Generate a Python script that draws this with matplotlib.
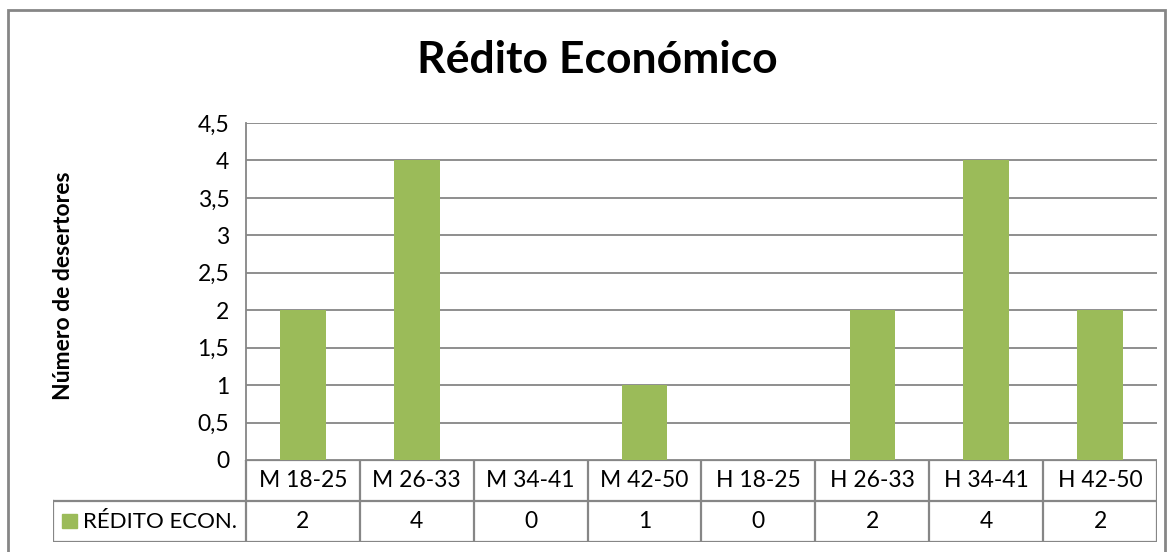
import matplotlib.pyplot as plt
import numpy as np
from matplotlib.patches import Rectangle

plt.rcParams['font.family'] = ['Lato', 'DejaVu Sans']

# datos
categorias = ['M 18-25', 'M 26-33', 'M 34-41', 'M 42-50',
              'H 18-25', 'H 26-33', 'H 34-41', 'H 42-50']
valores = [2, 4, 0, 1, 0, 2, 4, 2]
serie = 'RÉDITO ECON.'
ticks_y = [0, 0.5, 1, 1.5, 2, 2.5, 3, 3.5, 4, 4.5]

verde = '#9bbb59'
gris = '#868686'

W, H = 1169, 552
fig = plt.figure(figsize=(W / 100, H / 100), dpi=100)

# marco exterior
fig.patches.append(Rectangle((8 / W, -0.05), (1165 - 8) / W, (H - 10) / H + 0.05,
                             transform=fig.transFigure, fill=False,
                             edgecolor=gris, linewidth=2))

x0, x1 = 246, 1157
y_top, y_base = 123, 460
ax = fig.add_axes([x0 / W, (H - y_base) / H, (x1 - x0) / W, (y_base - y_top) / H])

n = len(categorias)
x = np.arange(n)
ax.bar(x, valores, width=0.4, color=verde, zorder=3)
ax.set_xlim(-0.5, n - 0.5)
ax.set_ylim(0, 4.5)
ax.set_yticks(ticks_y)
ax.set_yticklabels([('%g' % t).replace('.', ',') for t in ticks_y], fontsize=16.5)
ax.set_xticks([])
ax.tick_params(axis='y', length=0, pad=12)
ax.grid(axis='y', color=gris, linewidth=1.3, zorder=0)
for s in ['top', 'right', 'bottom']:
    ax.spines[s].set_visible(False)
ax.spines['left'].set_color(gris)
ax.spines['left'].set_linewidth(1.3)

fig.text(63 / W, 1 - 286 / H, 'Número de desertores', fontsize=16.5, fontweight='bold',
         rotation=90, ha='center', va='center')
fig.text(597 / W, 1 - 60 / H, 'Rédito Económico', fontsize=32, fontweight='bold',
         ha='center', va='center')

# tabla de datos
cw = (x1 - x0) / n
leg_x = 53
tx = fig.add_axes([leg_x / W, (H - 542) / H, (x1 - leg_x) / W, (542 - y_base) / H])
tx.set_xlim(-0.5 - (x0 - leg_x) / cw, n - 0.5)
tx.set_ylim(0, 2)
tx.axis('off')
lc = dict(color=gris, linewidth=1.6)
xl = -0.5 - (x0 - leg_x) / cw
tx.plot([-0.5, n - 0.5], [2, 2], **lc)
tx.plot([xl, n - 0.5], [1, 1], **lc)
tx.plot([xl, n - 0.5], [0, 0], **lc)
tx.plot([xl, xl], [0, 1], **lc)
for i in range(n + 1):
    tx.plot([i - 0.5, i - 0.5], [0, 2], **lc)
for i in range(n):
    tx.text(i, 1.5, categorias[i], ha='center', va='center', fontsize=16.5)
    tx.text(i, 0.5, str(valores[i]), ha='center', va='center', fontsize=16.5)
tx.add_patch(Rectangle((xl + 0.08, 0.33), 0.13, 0.36, color=verde))
tx.text(xl + 0.26, 0.5, serie, ha='left', va='center', fontsize=16)

fig.savefig('out.png', dpi=100)
